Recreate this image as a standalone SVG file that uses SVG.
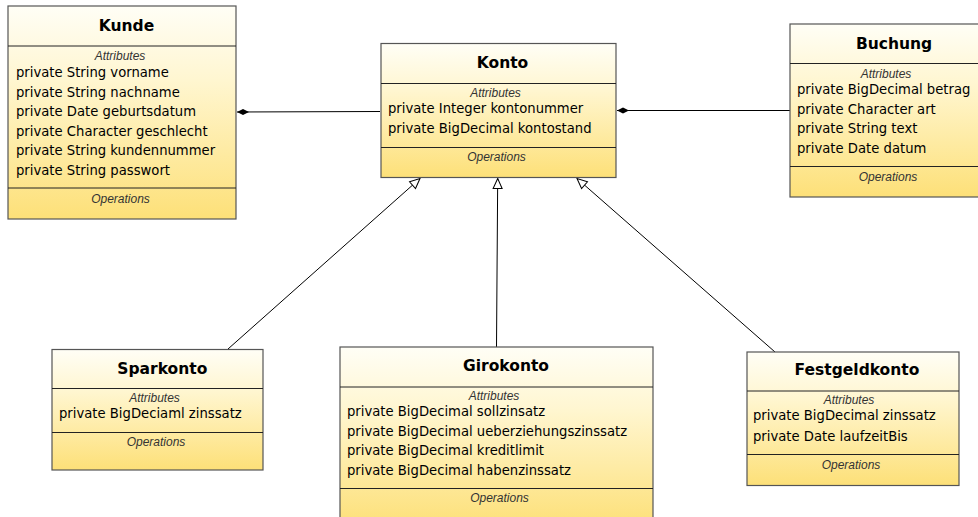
<svg xmlns="http://www.w3.org/2000/svg" width="978" height="517" viewBox="0 0 978 517">
<defs>
<linearGradient id="g" x1="0" y1="0" x2="0" y2="1">
<stop offset="0" stop-color="#fffef6"/>
<stop offset="0.35" stop-color="#fff6d0"/>
<stop offset="1" stop-color="#fde078"/>
</linearGradient>
<marker id="dia" viewBox="0 0 12 8" refX="0" refY="4" markerWidth="12" markerHeight="8" markerUnits="userSpaceOnUse" orient="auto">
<path d="M0,4 L6,1 L12,4 L6,7 Z" fill="#000"/>
</marker>
<marker id="tri" viewBox="0 0 12 12" refX="11" refY="6" markerWidth="12" markerHeight="12" markerUnits="userSpaceOnUse" orient="auto">
<path d="M1,1.5 L11,6 L1,10.5 Z" fill="#fff" stroke="#000" stroke-width="1"/>
</marker>
</defs>
<style>
.box{fill:url(#g);stroke:#555;stroke-width:1.2}
.div{stroke:#222;stroke-width:1}
.t{font-family:"DejaVu Sans",sans-serif;font-weight:bold;font-size:15.5px;fill:#000;text-anchor:middle}
.l{font-family:"Liberation Sans",Arial,sans-serif;font-style:italic;font-size:12px;fill:#333;text-anchor:middle}
.a{font-family:"DejaVu Sans",sans-serif;font-size:13.2px;fill:#000}
.c{stroke:#000;stroke-width:1;fill:none}
</style>
<g id="connectors">
<line class="c" x1="237" y1="112" x2="380" y2="111.5" marker-start="url(#dia)"/>
<line class="c" x1="617" y1="110.5" x2="790" y2="110.5" marker-start="url(#dia)"/>
<line class="c" x1="228" y1="349" x2="420" y2="178.5" marker-end="url(#tri)"/>
<line class="c" x1="496.5" y1="347" x2="497.7" y2="178.5" marker-end="url(#tri)"/>
<line class="c" x1="775" y1="352" x2="577" y2="178.5" marker-end="url(#tri)"/>
</g>
<g id="Kunde">
<rect class="box" x="8" y="6" width="228" height="213"/>
<line class="div" x1="8" y1="46" x2="236" y2="46"/>
<line class="div" x1="8" y1="188" x2="236" y2="188"/>
<text class="t" x="126.5" y="31">Kunde</text>
<text class="l" x="120" y="60">Attributes</text>
<text class="a" x="16" y="77">private String vorname</text>
<text class="a" x="16" y="96.5">private String nachname</text>
<text class="a" x="16" y="116">private Date geburtsdatum</text>
<text class="a" x="16" y="135.5">private Character geschlecht</text>
<text class="a" x="16" y="155">private String kundennummer</text>
<text class="a" x="16" y="174.5">private String passwort</text>
<text class="l" x="120.5" y="203">Operations</text>
</g>
<g id="Konto">
<rect class="box" x="381" y="43.5" width="235" height="134"/>
<line class="div" x1="381" y1="83.5" x2="616" y2="83.5"/>
<line class="div" x1="381" y1="147.5" x2="616" y2="147.5"/>
<text class="t" x="502.5" y="68">Konto</text>
<text class="l" x="495.5" y="97">Attributes</text>
<text class="a" x="388" y="113">private Integer kontonummer</text>
<text class="a" x="388" y="132.5">private BigDecimal kontostand</text>
<text class="l" x="496.5" y="161">Operations</text>
</g>
<g id="Buchung">
<rect class="box" x="790" y="24" width="197" height="173"/>
<line class="div" x1="790" y1="63.5" x2="987" y2="63.5"/>
<line class="div" x1="790" y1="166.5" x2="987" y2="166.5"/>
<text class="t" x="894" y="49">Buchung</text>
<text class="l" x="886" y="78">Attributes</text>
<text class="a" x="797" y="94">private BigDecimal betrag</text>
<text class="a" x="797" y="113.5">private Character art</text>
<text class="a" x="797" y="133">private String text</text>
<text class="a" x="797" y="152.5">private Date datum</text>
<text class="l" x="888" y="181">Operations</text>
</g>
<g id="Sparkonto">
<rect class="box" x="52" y="349.5" width="211" height="120.5"/>
<line class="div" x1="52" y1="388.5" x2="263" y2="388.5"/>
<line class="div" x1="52" y1="432.5" x2="263" y2="432.5"/>
<text class="t" x="162.3" y="374">Sparkonto</text>
<text class="l" x="154.5" y="402">Attributes</text>
<text class="a" x="59" y="418">private BigDeciaml zinssatz</text>
<text class="l" x="156" y="446">Operations</text>
</g>
<g id="Girokonto">
<rect class="box" x="340" y="347" width="313" height="180"/>
<line class="div" x1="340" y1="387" x2="653" y2="387"/>
<line class="div" x1="340" y1="488.5" x2="653" y2="488.5"/>
<text class="t" x="506" y="371">Girokonto</text>
<text class="l" x="494" y="400">Attributes</text>
<text class="a" x="347" y="416">private BigDecimal sollzinsatz</text>
<text class="a" x="347" y="435.5">private BigDecimal ueberziehungszinssatz</text>
<text class="a" x="347" y="455">private BigDecimal kreditlimit</text>
<text class="a" x="347" y="474.5">private BigDecimal habenzinssatz</text>
<text class="l" x="499.5" y="502">Operations</text>
</g>
<g id="Festgeldkonto">
<rect class="box" x="747" y="352" width="212" height="133.5"/>
<line class="div" x1="747" y1="391" x2="959" y2="391"/>
<line class="div" x1="747" y1="454.5" x2="959" y2="454.5"/>
<text class="t" x="857" y="375">Festgeldkonto</text>
<text class="l" x="849" y="404">Attributes</text>
<text class="a" x="753" y="420">private BigDecimal zinssatz</text>
<text class="a" x="753" y="440.5">private Date laufzeitBis</text>
<text class="l" x="851" y="469">Operations</text>
</g>
</svg>
